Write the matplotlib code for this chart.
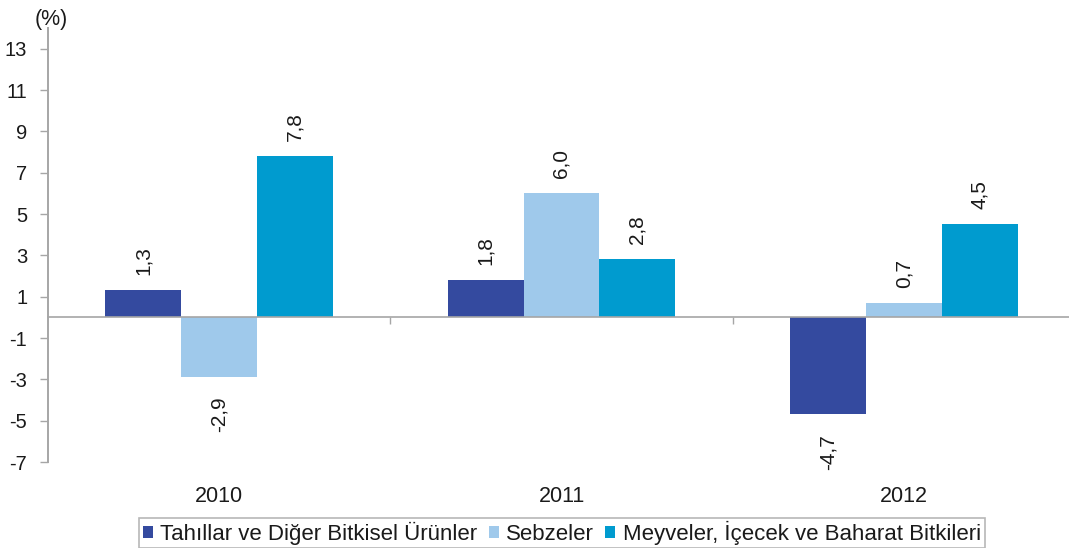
import matplotlib

matplotlib.use("Agg")
import matplotlib.pyplot as plt  # noqa: E402
import numpy as np  # noqa: E402

plt.rcParams["font.family"] = ["Liberation Sans", "DejaVu Sans"]

years = ["2010", "2011", "2012"]
series = [
    "Tahıllar ve Diğer Bitkisel Ürünler",
    "Sebzeler",
    "Meyveler, İçecek ve Baharat Bitkileri",
]
tahillar = [1.3, 1.8, -4.7]
sebzeler = [-2.9, 6.0, 0.7]
meyveler = [7.8, 2.8, 4.5]
yticks = [-7, -5, -3, -1, 1, 3, 5, 7, 9, 11, 13]

colors = ["#344a9f", "#9fc9eb", "#009bcf"]
GRAY = "#a6a6a6"
TXT = "#1a1a1a"

fig = plt.figure(figsize=(10.69, 5.48), dpi=100)
ax = fig.add_axes([48 / 1069, 1 - 462 / 548, 1027 / 1069, 434 / 548])

x = np.arange(len(years))
w = 0.222
for i, (vals, col, name) in enumerate(zip([tahillar, sebzeler, meyveler], colors, series)):
    pos = x + (i - 1) * w
    ax.bar(pos, vals, width=w, color=col, label=name, zorder=2)
    for px, v in zip(pos, vals):
        lab = f"{v:.1f}".replace(".", ",")
        if v >= 0:
            ax.annotate(lab, (px, v), xytext=(0, 11), textcoords="offset points",
                        rotation=90, ha="center", va="bottom", fontsize=15, color=TXT)
        else:
            ax.annotate(lab, (px, v), xytext=(0, -14), textcoords="offset points",
                        rotation=90, ha="center", va="top", fontsize=15, color=TXT)

ax.set_xlim(-0.5, 2.5)
ax.set_ylim(-7, 14)
ax.set_yticks(yticks)
ax.set_yticklabels([str(t) for t in yticks], fontsize=14.5, color=TXT)
ax.tick_params(axis="y", direction="out", length=6, width=1, color=GRAY, pad=9)

# x axis drawn at zero, with ticks at the category boundaries
ax.spines["bottom"].set_position(("data", 0))
ax.spines["bottom"].set_color(GRAY)
ax.spines["bottom"].set_linewidth(1.2)
ax.spines["bottom"].set_zorder(3)
ax.spines["left"].set_color(GRAY)
ax.spines["left"].set_linewidth(1.4)
ax.spines["top"].set_visible(False)
ax.spines["right"].set_visible(False)
ax.set_xticks([0.5, 1.5])
ax.set_xticklabels(["", ""])
ax.tick_params(axis="x", direction="out", length=5, width=1, color=GRAY)

for xi, yr in zip(x, years):
    ax.annotate(yr, (xi, -7), xytext=(0, -17), textcoords="offset points",
                ha="center", va="top", fontsize=15.5, color=TXT)

fig.text(35 / 1069, 1 - 19 / 548, "(%)", fontsize=15.5, color=TXT, ha="left", va="center")

handles, labels = ax.get_legend_handles_labels()
leg = fig.legend(handles, labels, loc="center", bbox_to_anchor=(562 / 1069, 1 - 533 / 548),
                 ncol=3, fontsize=16, frameon=True, fancybox=False, edgecolor=GRAY,
                 handlelength=0.45, handleheight=0.45, handletextpad=0.35,
                 columnspacing=0.5, borderpad=0.15, borderaxespad=0)
leg.get_frame().set_linewidth(1.2)
for t in leg.get_texts():
    t.set_color(TXT)

fig.savefig("out.png", dpi=100)
plt.close(fig)
